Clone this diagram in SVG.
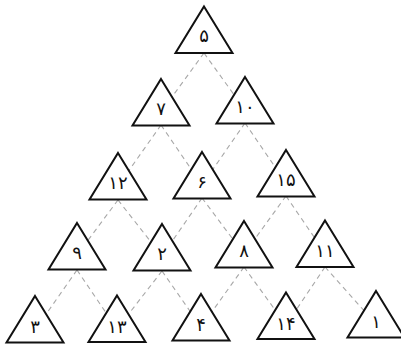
<svg xmlns="http://www.w3.org/2000/svg" xmlns:xlink="http://www.w3.org/1999/xlink" width="401" height="346" viewBox="0 0 401 346">
<style>
.tri{fill:#fff;stroke:#111;stroke-width:2;stroke-linejoin:miter}
.lbl{font-family:"DejaVu Sans",sans-serif;font-size:18px;fill:#111;text-anchor:middle}
.conn line{stroke:#a8a8a8;stroke-width:1.1;stroke-dasharray:5 4;fill:none}
</style>
<defs>
<path id="t" class="tri" d="M0,0 L28.5,46.5 L-28.5,46.5 Z"/>
</defs>
<rect width="401" height="346" fill="#fff"/>
<g id="connectors" class="conn">
<line x1="204" y1="53" x2="161" y2="112"/>
<line x1="204" y1="53" x2="245" y2="110"/>
<line x1="161" y1="125" x2="118" y2="186"/>
<line x1="161" y1="125" x2="202" y2="185"/>
<line x1="245" y1="123" x2="202" y2="185"/>
<line x1="245" y1="123" x2="286" y2="183"/>
<line x1="118" y1="200" x2="77" y2="255"/>
<line x1="118" y1="200" x2="162" y2="256"/>
<line x1="202" y1="198" x2="162" y2="256"/>
<line x1="202" y1="198" x2="244" y2="254"/>
<line x1="286" y1="196" x2="244" y2="254"/>
<line x1="286" y1="196" x2="325" y2="253"/>
<line x1="77" y1="270" x2="35" y2="330"/>
<line x1="77" y1="270" x2="117" y2="329"/>
<line x1="162" y1="271" x2="117" y2="329"/>
<line x1="162" y1="271" x2="201" y2="327"/>
<line x1="244" y1="267" x2="201" y2="327"/>
<line x1="244" y1="267" x2="286" y2="325"/>
<line x1="325" y1="267" x2="286" y2="325"/>
<line x1="325" y1="267" x2="376" y2="324"/>
</g>
<g id="n5" transform="translate(204,6.5)"><use xlink:href="#t" href="#t"/><text class="lbl" x="0" y="35">۵</text></g>
<g id="n7" transform="translate(161,79)"><use xlink:href="#t" href="#t"/><text class="lbl" x="0" y="36">۷</text></g>
<g id="n10" transform="translate(245,77)"><use xlink:href="#t" href="#t"/><text class="lbl" x="0" y="36">۱۰</text></g>
<g id="n12" transform="translate(118,153)"><use xlink:href="#t" href="#t"/><text class="lbl" x="0" y="36">۱۲</text></g>
<g id="n6" transform="translate(202,152)"><use xlink:href="#t" href="#t"/><text class="lbl" x="0" y="36">۶</text></g>
<g id="n15" transform="translate(286,150)"><use xlink:href="#t" href="#t"/><text class="lbl" x="0" y="36">۱۵</text></g>
<g id="n9" transform="translate(77,223)"><use xlink:href="#t" href="#t"/><text class="lbl" x="0" y="36">۹</text></g>
<g id="n2" transform="translate(162,224)"><use xlink:href="#t" href="#t"/><text class="lbl" x="0" y="36">۲</text></g>
<g id="n8" transform="translate(244,221)"><use xlink:href="#t" href="#t"/><text class="lbl" x="0" y="36">۸</text></g>
<g id="n11" transform="translate(325,220.5)"><use xlink:href="#t" href="#t"/><text class="lbl" x="0" y="36">۱۱</text></g>
<g id="n3" transform="translate(35,296)"><use xlink:href="#t" href="#t"/><text class="lbl" x="0" y="37">۳</text></g>
<g id="n13" transform="translate(117,295.5)"><use xlink:href="#t" href="#t"/><text class="lbl" x="0" y="37">۱۳</text></g>
<g id="n4" transform="translate(201,294)"><use xlink:href="#t" href="#t"/><text class="lbl" x="0" y="37">۴</text></g>
<g id="n14" transform="translate(286,292.5)"><use xlink:href="#t" href="#t"/><text class="lbl" x="0" y="37">۱۴</text></g>
<g id="n1" transform="translate(376,291)"><use xlink:href="#t" href="#t"/><text class="lbl" x="0" y="37">۱</text></g>
</svg>
